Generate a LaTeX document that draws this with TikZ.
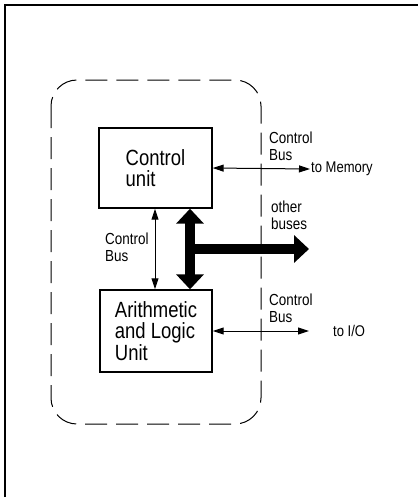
\documentclass[tikz,border=0pt]{standalone}
\usepackage{fontspec}
\setmainfont[FakeStretch=0.84]{Liberation Sans}
\usetikzlibrary{arrows.meta}
\tikzset{
  thickhead/.tip={Triangle[length=15pt,width=27pt]},
  thinhead/.tip={Triangle[length=11pt,width=7pt]}}
\begin{document}
\begin{tikzpicture}[x=1pt,y=-1pt,
  unitbox/.style={draw, line width=1.4pt, align=left, inner sep=0pt,
    font=\fontsize{22}{21.5}\selectfont},
  lbl/.style={align=left, anchor=north west, inner sep=0pt,
    font=\fontsize{16}{16.5}\selectfont},
  thinbus/.style={line width=1pt, {thinhead}-{thinhead}},
  thickbus/.style={line width=10.5pt}]
\useasboundingbox (0,0) rectangle (418,499);
% outer frame (left and top)
\draw[line width=1.3pt] (5,497) -- (5,5) -- (418,5);
% dashed CPU boundary
\draw[line width=1pt, dash pattern=on 22pt off 9pt, rounded corners=26pt]
  (51,80) rectangle (261,424);
% boxes
\node[unitbox, minimum width=113pt, minimum height=80pt] (cu) at (155.5,168) {Control\\unit};
\node[unitbox, minimum width=112pt, minimum height=82pt] (alu) at (156,331) {Arithmetic\\and Logic\\Unit};
% labels
\node[lbl] (cblabel) at (105,233) {Control\\Bus};
\node[lbl] (memlabel) at (269,132) {Control\\Bus};
\node[lbl] (iolabel) at (269,294) {Control\\Bus};
\node[lbl] (otherlabel) at (271,201) {other\\buses};
\node[anchor=west, inner sep=1pt, font=\fontsize{15.5}{16}\selectfont] (tomem) at (310,169) {to Memory};
\node[anchor=west, inner sep=0pt, font=\fontsize{15.5}{16}\selectfont] (toio) at (333,331) {to I/O};
% coordinates
\coordinate (thinx) at (155,0);
\coordinate (thickx) at (190,0);
\coordinate (branch) at (190,249);
\coordinate (otherend) at (309,249);
\coordinate (ioend) at (309,331);
% thin control bus between units
\draw[thinbus] (cu.south -| thinx) -- (alu.north -| thinx);
% control bus to memory and to I/O
\draw[thinbus] (cu.east) -- (tomem.west);
\draw[thinbus] (alu.east) -- (ioend);
% thick data buses
\draw[thickbus, {thickhead}-{thickhead}] (cu.south -| thickx) -- (alu.north -| thickx);
\draw[thickbus, -{thickhead}] (branch) -- (otherend);
\end{tikzpicture}
\end{document}
